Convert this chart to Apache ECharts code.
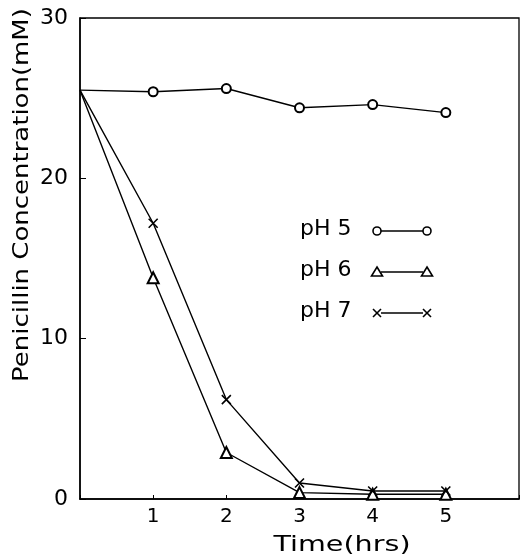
<!DOCTYPE html>
<html>
<head>
<meta charset="utf-8">
<script src="https://cdn.jsdelivr.net/npm/echarts@6/dist/echarts.min.js"></script>
<style>
  html, body { margin: 0; padding: 0; background: #fff; }
  #chart { width: 523px; height: 559px; }
</style>
</head>
<body>
<div id="chart"></div>
<script>
// time points (hrs)
const time = [0, 1, 2, 3, 4, 5];
// penicillin concentration (mM)
const ph5 = [25.5, 25.4, 25.6, 24.4, 24.6, 24.1];
const ph6 = [25.5, 13.8, 2.9, 0.4, 0.3, 0.3];
const ph7 = [25.5, 17.2, 6.2, 1.0, 0.5, 0.5];
const seriesNames = ["pH 5", "pH 6", "pH 7"];
const xTicks = [1, 2, 3, 4, 5];
const yTicks = [0, 10, 20, 30];

const font = "DejaVu Sans";
const crossPath = "path://M0,0L10,10M10,0L0,10";
const symbols = ["emptyCircle", "emptyTriangle", crossPath];
const sizes = [9, 11, 9];

function toData(vals) {
  // first point sits on the axis with no marker
  return vals.map((v, i) => i === 0 ? { value: [time[i], v], symbol: "none" } : [time[i], v]);
}

const allVals = [ph5, ph6, ph7];
const series = allVals.map((vals, i) => ({
  name: seriesNames[i],
  type: "line",
  data: toData(vals),
  symbol: symbols[i],
  symbolSize: sizes[i],
  showAllSymbol: true,
  lineStyle: { color: "#000", width: 1.4 },
  itemStyle: { color: "#000", borderColor: "#000", borderWidth: 1.6 },
  z: 3 + i
}));

// legend drawn as text + marker-line-marker, like the original figure
const legendGraphics = [];
seriesNames.forEach((name, i) => {
  const cy = 231 + i * 41;
  legendGraphics.push({
    type: "text", left: 300, top: cy - 13,
    style: { text: name, font: "22px " + font, fill: "#000" }
  });
  legendGraphics.push({
    type: "line", shape: { x1: 381, y1: cy, x2: 423, y2: cy },
    style: { stroke: "#000", lineWidth: 1.5 }
  });
  [377, 427].forEach(cx => {
    if (i === 0) {
      legendGraphics.push({ type: "circle", shape: { cx: cx, cy: cy, r: 4 },
        style: { fill: "#fff", stroke: "#000", lineWidth: 1.6 } });
    } else if (i === 1) {
      legendGraphics.push({ type: "polygon",
        shape: { points: [[cx, cy - 5], [cx + 5.5, cy + 4], [cx - 5.5, cy + 4]] },
        style: { fill: "#fff", stroke: "#000", lineWidth: 1.6 } });
    } else {
      legendGraphics.push({ type: "line", shape: { x1: cx - 4, y1: cy - 4, x2: cx + 4, y2: cy + 4 },
        style: { stroke: "#000", lineWidth: 1.6 } });
      legendGraphics.push({ type: "line", shape: { x1: cx + 4, y1: cy - 4, x2: cx - 4, y2: cy + 4 },
        style: { stroke: "#000", lineWidth: 1.6 } });
    }
  });
});

const option = {
  animation: false,
  backgroundColor: "#fff",
  grid: {
    left: 80, right: 4, top: 18, bottom: 60,
    show: true, borderColor: "#000", borderWidth: 1.3
  },
  xAxis: {
    type: "value", min: 0, max: 6, interval: 1,
    axisLine: { show: true, lineStyle: { color: "#000", width: 1.5 } },
    axisTick: { show: true, inside: true, length: 4, lineStyle: { color: "#000" } },
    axisLabel: {
      fontFamily: font, fontSize: 20, color: "#000", margin: 8,
      formatter: v => xTicks.indexOf(v) >= 0 ? String(v) : ""
    },
    splitLine: { show: false }
  },
  yAxis: {
    type: "value", min: 0, max: 30, interval: 10,
    axisLine: { show: true, lineStyle: { color: "#000", width: 1.5 } },
    axisTick: { show: true, inside: true, length: 6, lineStyle: { color: "#000" } },
    axisLabel: {
      fontFamily: font, fontSize: 22, color: "#000", margin: 12,
      formatter: v => yTicks.indexOf(v) >= 0 ? String(v) : ""
    },
    splitLine: { show: false }
  },
  graphic: [
    {
      // y axis title, stretched along its length like the typeset original
      type: "text", x: 22, y: 195, rotation: Math.PI / 2, scaleX: 1.18,
      style: {
        text: "Penicillin Concentration(mM)", font: "22px " + font, fill: "#000",
        textAlign: "center", textVerticalAlign: "middle"
      }
    },
    {
      type: "text", x: 342, y: 545, scaleX: 1.3,
      style: {
        text: "Time(hrs)", font: "22px " + font, fill: "#000",
        textAlign: "center", textVerticalAlign: "middle"
      }
    }
  ].concat(legendGraphics),
  series: series
};

const chartObj = echarts.init(document.getElementById("chart"), null, { renderer: "canvas" });
chartObj.setOption(option);
</script>
</body>
</html>
